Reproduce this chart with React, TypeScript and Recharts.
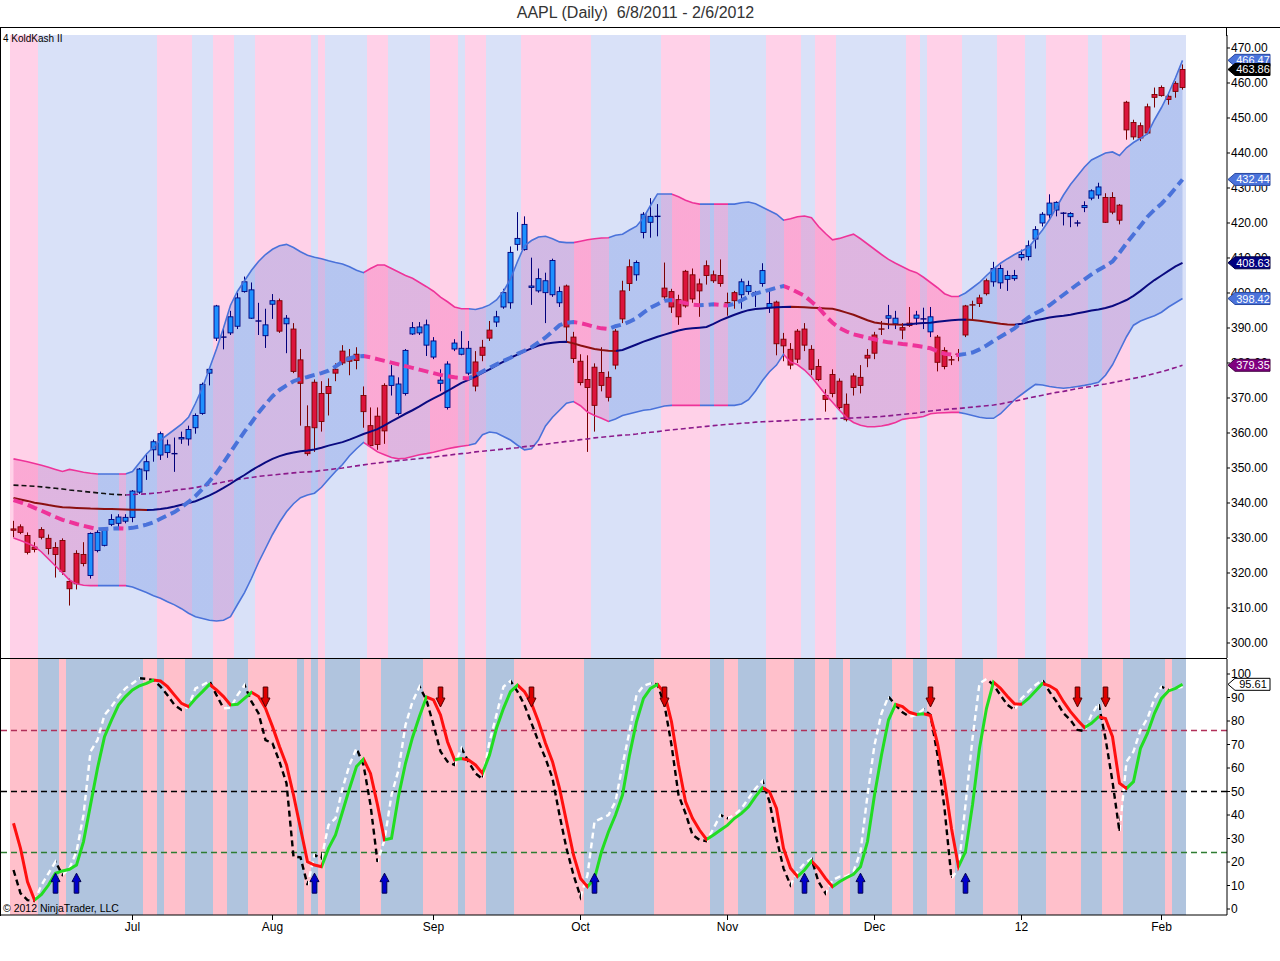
import React from "react";
import {
  ComposedChart,
  Bar,
  Line,
  Area,
  XAxis,
  YAxis,
  ReferenceArea,
  ReferenceLine,
  Scatter,
} from "recharts";

// ---------------- DATA ----------------
const monthTickDays = [17, 37, 60, 81, 102, 123, 144, 164];
const monthTickLabels = ["Jul", "Aug", "Sep", "Oct", "Nov", "Dec", "12", "Feb"];

const openVals = [
  332.6, 333.2, 330.7, 327.4, 332.4, 329.9, 327.3, 329.3, 317.6, 325.6,
  325.3, 319.3, 326.4, 327.9, 333.9, 334.2, 334.8, 335.9, 343.1, 349.2,
  355.2, 353.7, 354.4, 354.1, 358.3, 358.3, 361.5, 365.6, 377.1, 387.1,
  387.4, 388.6, 390.5, 400.4, 392.8, 392.0, 387.8, 396.8, 397.8, 391.2,
  389.7, 380.9, 361.8, 374.5, 371.3, 373.3, 378.2, 383.4, 381.7, 382.5,
  370.7, 362.1, 364.8, 373.6, 373.6, 365.6, 371.3, 388.3, 388.6, 385.1,
  381.7, 374.2, 367.3, 384.0, 382.5, 377.1, 380.3, 384.5, 389.4, 391.7,
  396.0, 397.2, 413.9, 412.4, 401.6, 400.6, 400.1, 399.5, 397.2, 402.0,
  387.4, 380.5, 375.3, 378.8, 377.3, 375.9, 389.1, 400.6, 407.5, 405.2,
  417.3, 420.2, 421.9, 401.4, 400.4, 398.1, 406.2, 405.2, 402.6, 407.8,
  405.2, 405.0, 397.2, 400.1, 399.5, 400.4, 400.1, 402.7, 395.8, 397.4,
  386.8, 383.9, 389.1, 389.7, 383.9, 379.0, 370.7, 376.7, 374.8, 368.2,
  376.3, 375.9, 382.2, 388.0, 389.7, 392.8, 391.2, 390.1, 391.4, 392.8,
  392.6, 388.9, 387.4, 383.6, 380.9, 382.5, 396.3, 396.6, 398.6, 403.5,
  403.2, 402.9, 403.9, 404.1, 410.1, 410.4, 415.4, 420.0, 422.3, 423.7,
  422.8, 421.8, 420.0, 424.4, 427.1, 428.0, 427.3, 427.3, 425.1, 454.5,
  448.7, 447.8, 453.2, 456.7, 458.7, 456.2, 459.9, 458.7,
];
const highVals = [
  334.9, 333.9, 331.6, 328.8, 333.1, 331.0, 328.8, 329.9, 318.4, 326.5,
  328.8, 331.6, 332.2, 332.8, 336.8, 336.8, 336.8, 343.7, 350.0, 354.1,
  358.1, 360.4, 358.1, 358.7, 360.4, 362.1, 365.6, 374.4, 378.8, 396.6,
  390.3, 394.9, 400.1, 404.7, 403.0, 397.2, 395.5, 399.7, 398.4, 393.7,
  391.4, 384.0, 367.9, 375.3, 374.8, 375.6, 379.9, 385.1, 384.0, 384.5,
  373.3, 367.3, 367.3, 374.2, 379.4, 375.9, 384.0, 391.7, 391.7, 392.4,
  387.4, 378.2, 380.5, 386.8, 389.1, 386.3, 383.4, 386.6, 392.0, 394.9,
  401.2, 413.3, 423.1, 421.9, 410.1, 407.0, 405.8, 409.8, 401.8, 402.4,
  388.9, 382.5, 382.2, 379.9, 384.5, 377.6, 389.7, 403.5, 409.6, 409.3,
  423.1, 427.1, 425.4, 408.7, 401.2, 399.5, 406.6, 407.0, 404.1, 409.3,
  406.4, 409.6, 400.1, 400.6, 404.1, 403.5, 400.6, 408.5, 401.2, 397.8,
  388.6, 385.7, 389.7, 391.4, 385.1, 381.1, 372.5, 378.2, 375.6, 371.3,
  377.1, 379.4, 384.0, 388.9, 392.0, 396.6, 394.9, 391.4, 396.0, 394.9,
  395.8, 396.0, 388.0, 384.5, 382.0, 384.0, 396.6, 397.8, 399.5, 404.1,
  408.9, 408.1, 406.4, 406.6, 412.4, 415.0, 419.1, 423.1, 428.2, 426.2,
  423.1, 423.1, 420.8, 426.2, 429.6, 431.5, 428.5, 428.8, 425.4, 454.9,
  449.5, 448.7, 454.1, 458.7, 459.3, 457.2, 460.5, 465.3,
];
const lowVals = [
  330.2, 331.1, 325.3, 325.9, 329.6, 325.3, 318.7, 319.5, 310.7, 315.3,
  321.9, 318.4, 325.9, 327.6, 333.4, 332.8, 334.2, 334.5, 342.6, 346.6,
  351.8, 352.3, 352.9, 348.9, 356.9, 356.4, 359.8, 365.2, 373.6, 386.3,
  383.9, 388.0, 389.7, 400.1, 392.6, 388.0, 384.3, 392.6, 388.6, 382.8,
  377.1, 362.1, 353.5, 354.6, 360.4, 365.0, 374.8, 379.4, 376.5, 378.2,
  361.5, 355.8, 355.2, 356.9, 370.7, 365.0, 370.7, 388.0, 388.0, 382.0,
  381.1, 371.9, 366.7, 383.4, 382.2, 376.5, 371.9, 380.5, 386.3, 390.3,
  395.5, 395.5, 412.1, 412.1, 396.6, 400.1, 391.4, 398.9, 396.0, 386.3,
  380.0, 373.6, 354.6, 360.4, 371.9, 369.0, 378.2, 391.4, 400.6, 403.5,
  415.6, 415.8, 416.2, 398.3, 394.3, 390.9, 395.8, 397.2, 393.2, 402.4,
  402.9, 401.8, 393.5, 395.5, 395.5, 399.5, 396.0, 401.8, 394.3, 382.2,
  380.5, 378.2, 380.0, 383.4, 376.5, 374.8, 366.1, 370.2, 366.7, 363.3,
  370.7, 371.3, 378.8, 381.1, 388.0, 389.7, 389.7, 386.8, 390.3, 390.9,
  389.7, 387.4, 377.6, 378.2, 379.4, 380.5, 387.4, 392.0, 396.0, 399.3,
  401.8, 401.2, 400.6, 403.5, 409.3, 409.3, 412.7, 419.0, 421.3, 421.9,
  419.3, 418.8, 419.0, 423.1, 426.5, 426.9, 420.0, 422.5, 419.6, 443.8,
  443.8, 443.4, 445.3, 453.0, 456.1, 453.8, 455.8, 458.1,
];
const closeVals = [
  332.2, 331.6, 325.9, 326.7, 330.2, 327.0, 325.3, 320.4, 315.5, 316.9,
  322.7, 331.3, 331.6, 332.2, 335.3, 336.0, 335.9, 343.4, 349.7, 351.8,
  357.5, 359.8, 356.6, 354.1, 358.7, 361.0, 365.0, 373.9, 378.2, 396.3,
  387.4, 393.2, 398.6, 403.2, 400.9, 392.0, 390.9, 397.8, 389.1, 392.8,
  377.6, 374.2, 354.1, 361.5, 363.3, 371.3, 377.1, 380.0, 380.5, 380.7,
  366.1, 356.4, 356.7, 360.6, 376.3, 374.0, 383.6, 390.1, 390.3, 390.9,
  386.3, 375.1, 379.7, 385.7, 384.2, 384.2, 373.4, 382.2, 387.1, 393.2,
  400.1, 411.6, 415.6, 419.6, 402.0, 404.1, 403.5, 409.3, 400.4, 390.3,
  381.3, 374.4, 373.0, 367.9, 373.6, 370.2, 379.4, 392.6, 402.7, 408.7,
  422.5, 421.9, 421.9, 398.9, 396.0, 393.2, 396.3, 398.3, 400.6, 405.0,
  403.5, 402.7, 397.2, 397.8, 403.2, 402.1, 400.1, 406.4, 397.0, 385.5,
  384.9, 379.4, 381.1, 385.1, 378.2, 375.3, 369.6, 371.3, 367.3, 363.8,
  373.0, 373.6, 381.4, 382.8, 389.7, 393.5, 392.8, 389.4, 390.7, 393.7,
  392.6, 393.2, 380.2, 379.0, 380.9, 382.5, 388.0, 396.6, 397.0, 399.8,
  407.0, 407.0, 405.0, 405.0, 411.0, 413.5, 418.1, 422.5, 425.7, 425.9,
  422.8, 422.7, 420.0, 425.0, 429.2, 430.3, 420.2, 423.1, 420.8, 446.6,
  444.6, 444.3, 445.7, 455.9, 456.4, 455.3, 457.6, 463.86,
];
// candle colour regime: r = red, b = blue (run lengths)
const candleToneRuns: [string, number][] = [
  ["r", 11], ["b", 27], ["r", 1], ["b", 1], ["r", 14], ["b", 12], ["r", 3],
  ["b", 10], ["r", 10], ["b", 4], ["r", 11], ["b", 5], ["r", 16], ["b", 2],
  ["r", 2], ["b", 3], ["r", 8], ["b", 16], ["r", 12],
];

const bbUpper = [
  352.6, 352.2, 351.8, 351.3, 350.8, 350.2, 349.6, 349.0, 349.6, 349.2,
  348.8, 348.5, 348.3, 348.3, 348.3, 348.3, 348.3, 349.0, 351.5, 354.0,
  356.0, 358.0, 359.5, 361.0, 362.5, 364.5, 368.5, 373.0, 378.5, 384.0,
  390.0, 396.5, 400.5, 403.5, 406.5, 409.0, 411.0, 412.5, 413.5, 413.9,
  413.0, 411.8, 410.8, 410.2, 409.8, 409.2, 408.7, 408.3, 407.5, 406.5,
  405.8, 407.0, 408.0, 408.0, 407.0, 406.0, 405.0, 404.2, 403.0, 401.8,
  400.5, 398.8, 397.5, 396.0, 395.5, 395.5, 395.3, 395.8, 396.6, 398.0,
  400.5, 404.0, 409.0, 413.5, 415.0, 416.0, 416.2, 415.5, 414.6, 414.4,
  414.4, 414.8, 415.2, 415.5, 415.7, 415.8, 416.5, 416.8, 418.0, 419.1,
  421.5, 425.0, 428.3, 428.3, 428.3, 427.5, 426.5, 425.8, 425.4, 425.4,
  425.4, 425.4, 425.4, 425.4, 425.8, 426.0, 425.5, 424.5, 423.5, 422.5,
  420.8, 421.2, 421.8, 422.0, 421.5, 419.0, 417.0, 415.2, 415.6, 416.2,
  416.8, 415.5, 414.0, 412.5, 411.0, 409.6, 408.5, 407.5, 406.5, 405.8,
  404.5, 403.0, 401.5, 399.8, 399.0, 399.0, 400.0, 401.5, 403.0, 405.0,
  406.8, 408.5, 409.8, 411.0, 412.0, 413.0, 415.5, 418.0, 421.0, 424.5,
  428.0, 431.0, 433.5, 436.0, 438.0, 439.0, 440.0, 440.3, 439.3, 441.5,
  443.0, 444.2, 445.5, 449.5, 453.0, 457.0, 461.5, 466.47,
];
const bbMid = [
  340.8, 340.2, 339.5, 338.6, 337.8, 336.9, 336.0, 335.2, 334.6, 334.0,
  333.5, 333.0, 332.5, 332.6, 332.7, 332.8, 332.7, 332.9, 333.3, 333.8,
  334.5, 335.5, 336.5, 337.4, 338.8, 340.3, 342.0, 344.0, 346.2, 348.6,
  351.5, 354.5, 357.5, 360.4, 363.0, 365.8, 368.2, 370.5, 372.3, 373.6,
  374.8, 375.5, 376.0, 376.6, 377.1, 377.8, 379.0, 380.4, 381.3, 381.9,
  382.0, 381.6, 381.1, 380.6, 380.1, 379.6, 379.1, 378.6, 378.1, 377.6,
  377.1, 376.6, 376.2, 375.9, 375.7, 375.6, 376.5, 377.6, 378.6, 379.6,
  380.6, 381.5, 382.6, 383.5, 384.5, 385.9, 387.3, 389.0, 390.8, 391.5,
  391.7, 391.4, 390.9, 390.3, 389.9, 389.7, 390.5, 391.0, 391.8, 392.8,
  394.4, 395.8, 396.8, 397.8, 398.0, 397.6, 397.1, 396.7, 396.5, 396.6,
  396.8, 396.6, 396.4, 396.9, 397.9, 399.0, 399.8, 400.4, 400.9, 401.5,
  402.0, 401.2, 400.2, 399.2, 397.5, 395.8, 393.5, 391.5, 390.0, 389.0,
  388.2, 387.7, 387.2, 386.8, 386.3, 385.9, 385.7, 385.4, 385.2, 384.9,
  384.6, 384.2, 383.4, 382.6, 382.4, 382.3, 382.6, 383.0, 383.9, 385.0,
  386.3, 387.5, 388.7, 389.9, 391.5, 393.0, 394.2, 395.2, 396.5, 398.0,
  399.5, 401.0, 402.5, 403.9, 405.3, 406.6, 407.7, 409.0, 411.5, 414.2,
  416.7, 419.2, 421.8, 423.8, 425.5, 427.6, 430.0, 432.44,
];
const bbLower = [
  330.0, 329.3, 328.5, 327.6, 326.0, 324.0, 322.0, 320.1, 318.0, 316.9,
  316.5, 316.4, 316.4, 316.4, 316.4, 316.4, 316.4, 316.0, 315.2, 314.4,
  313.5, 312.8, 311.8, 310.9, 309.8, 308.5, 307.5, 307.0, 306.5, 306.3,
  306.5, 307.5, 311.0, 314.4, 318.5, 323.0, 327.0, 331.0, 334.5, 337.5,
  339.8, 341.5, 342.3, 342.8, 344.5, 346.8, 349.0, 351.0, 353.5, 355.5,
  357.3, 356.0, 354.6, 353.8, 353.0, 352.6, 352.8, 353.3, 353.8, 354.1,
  354.5, 355.0, 355.5, 355.9, 356.2, 356.5, 357.0, 359.5, 360.3, 360.0,
  359.0, 358.0, 356.5, 355.2, 355.5, 358.0, 362.0, 364.5, 366.5, 368.5,
  369.0, 367.8, 366.0, 365.0, 364.2, 363.3, 364.0, 365.0, 365.5, 366.0,
  366.5, 366.7, 367.2, 367.7, 367.9, 367.9, 367.9, 367.9, 367.9, 367.9,
  367.9, 367.9, 367.9, 367.9, 368.3, 369.5, 372.0, 375.0, 377.5, 379.4,
  382.5, 380.3, 379.5, 378.0, 376.0, 373.5, 371.0, 368.8, 366.5, 364.4,
  363.0, 362.2, 361.8, 361.8, 362.0, 362.4, 363.0, 363.9, 364.2, 364.4,
  364.7, 365.5, 365.7, 365.8, 365.9, 365.9, 365.5, 365.0, 364.5, 364.2,
  364.2, 365.5, 367.5, 369.5, 371.0, 372.5, 373.9, 373.7, 373.3, 373.0,
  372.8, 373.0, 373.3, 373.6, 374.0, 374.5, 376.5, 379.5, 383.5, 387.5,
  390.8, 392.0, 392.8, 393.5, 394.5, 396.0, 397.2, 398.42,
];
const sma50 = [
  341.4, 341.0, 340.6, 340.1, 339.8, 339.4, 339.1, 338.8, 338.7, 338.6,
  338.5, 338.4, 338.35, 338.3, 338.25, 338.2, 338.15, 338.1, 338.05, 338.0,
  338.1, 338.3, 338.6, 339.0, 339.5, 340.0, 340.5, 341.3, 342.2, 343.2,
  344.3, 345.5, 346.8, 348.0, 349.3, 350.5, 351.6, 352.6, 353.4, 354.0,
  354.4, 354.8, 355.0, 355.3, 355.8, 356.4, 356.9, 357.4, 358.1, 358.9,
  359.7, 360.4, 361.1, 362.2, 363.3, 364.4, 365.5, 366.5, 367.6, 368.8,
  369.9, 370.9, 372.0, 373.2, 374.3, 375.2, 376.1, 377.2, 378.2, 379.3,
  380.4, 381.5, 382.4, 383.3, 384.2, 385.0, 385.5, 385.8, 386.0, 386.05,
  385.6, 385.0, 384.5, 384.0, 383.7, 383.5, 383.4, 383.7, 384.5, 385.3,
  386.1, 386.8, 387.5, 388.1, 388.7, 389.3, 389.7, 389.9, 390.1, 390.3,
  391.2, 392.2, 393.0, 393.8, 394.5, 395.1, 395.4, 395.6, 395.8, 395.9,
  396.0, 396.05, 396.0, 395.9, 395.8, 395.7, 395.6, 395.5, 395.0, 394.4,
  393.8, 393.0, 392.2, 391.6, 391.3, 391.1, 391.0, 390.95, 391.1, 391.3,
  391.4, 391.5, 391.8, 392.0, 392.2, 392.35, 392.4, 392.3, 392.1, 391.8,
  391.5, 391.2, 391.0, 390.9, 391.2, 391.7, 392.2, 392.6, 393.0, 393.3,
  393.5, 393.8, 394.2, 394.6, 395.0, 395.3, 395.7, 396.3, 397.1, 398.0,
  399.2, 400.6, 402.2, 403.7, 405.0, 406.3, 407.6, 408.63,
];
const sma200 = [
  345.1, 345.0, 344.9, 344.8, 344.6, 344.4, 344.2, 344.0, 343.7, 343.5,
  343.3, 343.1, 342.9, 342.7, 342.5, 342.4, 342.3, 342.4, 342.5, 342.6,
  342.8, 343.0, 343.3, 343.6, 343.9, 344.1, 344.4, 344.8, 345.2, 345.6,
  346.0, 346.4, 346.7, 347.0, 347.3, 347.6, 347.8, 348.0, 348.2, 348.4,
  348.6, 348.8, 348.9, 349.0, 349.3, 349.5, 349.8, 350.0, 350.3, 350.6,
  350.9, 351.2, 351.4, 351.7, 351.9, 352.1, 352.3, 352.5, 352.7, 352.9,
  353.1, 353.4, 353.6, 353.9, 354.1, 354.3, 354.6, 354.8, 355.0, 355.2,
  355.4, 355.6, 355.8, 356.1, 356.3, 356.6, 356.8, 357.1, 357.3, 357.6,
  357.8, 358.1, 358.3, 358.6, 358.8, 359.0, 359.2, 359.4, 359.5, 359.7,
  360.0, 360.2, 360.4, 360.7, 360.9, 361.1, 361.3, 361.5, 361.7, 361.9,
  362.1, 362.3, 362.5, 362.6, 362.8, 362.9, 363.1, 363.2, 363.3, 363.4,
  363.5, 363.6, 363.7, 363.8, 363.9, 364.0, 364.05, 364.1, 364.2, 364.25,
  364.3, 364.4, 364.5, 364.6, 364.7, 364.9, 365.1, 365.3, 365.5, 365.7,
  366.0, 366.3, 366.5, 366.7, 366.9, 367.0, 367.2, 367.4, 367.6, 367.8,
  368.0, 368.3, 368.7, 369.1, 369.5, 370.0, 370.4, 370.8, 371.2, 371.6,
  371.9, 372.3, 372.7, 373.0, 373.3, 373.7, 374.0, 374.4, 374.8, 375.2,
  375.6, 376.0, 376.5, 377.0, 377.5, 378.1, 378.7, 379.35,
];

const stochSlow = [
  36.5, 25.8, 11.6, 3.8, 6.2, 10.2, 15.2, 16.2, 16.9, 18.7,
  28.7, 44.3, 59.9, 73.3, 80.4, 86.8, 90.4, 93.2, 95.0, 96.0,
  97.4, 97.0, 94.6, 91.0, 87.5, 86.1, 89.6, 92.5, 95.6, 93.2,
  90.4, 86.8, 87.1, 89.6, 92.2, 90.4, 85.4, 77.6, 69.1, 61.3,
  48.5, 34.3, 20.1, 18.7, 18.0, 25.8, 31.5, 41.4, 51.3, 60.6,
  63.8, 57.7, 44.3, 29.4, 30.1, 48.0, 62.0, 73.0, 82.0, 90.2,
  89.0, 82.6, 71.2, 63.5, 64.0, 63.4, 61.3, 57.7, 65.5, 76.9,
  85.4, 92.5, 95.3, 92.5, 87.5, 79.7, 70.5, 62.7, 51.3, 37.2,
  23.0, 13.0, 9.5, 13.0, 24.4, 32.9, 40.0, 48.5, 65.5, 79.7,
  89.6, 93.9, 95.6, 91.8, 79.7, 61.3, 45.7, 38.6, 33.6, 29.6,
  31.5, 33.6, 35.7, 38.6, 40.7, 43.5, 47.8, 51.6, 49.9, 42.8,
  25.8, 17.3, 13.8, 16.6, 20.4, 17.3, 13.0, 9.5, 11.6, 13.3,
  14.8, 18.0, 28.7, 48.5, 65.5, 80.4, 87.1, 86.1, 83.7, 82.8,
  83.1, 82.3, 70.5, 54.2, 34.3, 18.0, 24.4, 44.3, 68.4, 85.4,
  96.5, 93.9, 90.4, 87.3, 87.1, 89.6, 92.8, 96.0, 95.0, 93.2,
  88.2, 84.0, 80.4, 77.2, 79.0, 81.8, 81.1, 73.3, 53.5, 51.3,
  54.2, 68.4, 74.8, 83.3, 89.6, 92.8, 93.9, 95.61,
];
const stochFast = [
  16.6, 6.7, 3.8, 3.4, 10.2, 15.2, 20.1, 14.5, 17.3, 24.4,
  40.0, 67.0, 71.9, 82.6, 86.1, 90.4, 93.9, 96.0, 98.2, 97.9,
  97.4, 94.6, 91.0, 86.8, 84.7, 86.1, 93.9, 95.3, 97.0, 91.0,
  85.4, 85.6, 91.0, 95.3, 88.2, 83.3, 71.9, 70.5, 62.7, 53.5,
  22.3, 22.0, 10.2, 23.0, 21.6, 35.7, 38.6, 51.3, 61.3, 68.4,
  61.3, 44.3, 20.1, 29.4, 48.5, 59.1, 78.3, 88.2, 94.6, 88.9,
  78.3, 67.0, 62.7, 61.3, 68.4, 62.7, 57.7, 55.3, 71.2, 82.6,
  94.6, 97.0, 92.5, 86.8, 79.0, 71.2, 64.1, 55.6, 40.0, 25.8,
  14.5, 5.2, 14.5, 37.2, 38.6, 40.0, 45.7, 61.3, 75.5, 91.0,
  95.0, 96.0, 95.6, 86.8, 69.8, 48.5, 40.7, 31.5, 29.4, 28.9,
  34.3, 40.0, 38.6, 40.0, 42.8, 47.1, 51.3, 54.5, 45.7, 30.1,
  17.3, 10.2, 15.9, 19.4, 21.3, 11.6, 6.7, 12.3, 13.8, 13.9,
  15.9, 24.4, 48.5, 69.8, 83.3, 90.4, 86.8, 83.7, 81.8, 82.6,
  85.0, 82.6, 65.5, 42.8, 13.0, 17.3, 44.3, 72.6, 96.0, 97.9,
  95.3, 91.0, 86.8, 84.7, 89.6, 92.5, 95.3, 97.4, 92.5, 88.2,
  83.3, 80.4, 76.2, 75.7, 82.6, 87.5, 72.6, 54.2, 32.9, 62.7,
  67.0, 76.2, 81.1, 89.6, 94.6, 93.2, 93.9, 94.5,
];

// background zones: p = pink, b = blue (run lengths, one unit per trading day)
const priceZoneRuns: [string, number][] = [
  ["p", 4], ["b", 17], ["p", 5], ["b", 3], ["p", 3], ["b", 3], ["p", 8], ["b", 1],
  ["p", 1], ["b", 6], ["p", 3], ["b", 6], ["p", 4], ["b", 1], ["p", 3], ["b", 5],
  ["p", 10], ["b", 10], ["p", 7], ["b", 8], ["p", 5], ["b", 2], ["p", 3], ["b", 10],
  ["p", 2], ["b", 1], ["p", 5], ["b", 5], ["p", 4], ["b", 3], ["p", 6], ["b", 2],
  ["p", 4], ["b", 8],
];
const oscZoneRuns: [string, number][] = [
  ["p", 4], ["b", 3], ["p", 1], ["b", 11], ["p", 2], ["b", 1], ["p", 3], ["b", 4],
  ["p", 2], ["b", 3], ["p", 7], ["b", 1], ["p", 1], ["b", 1], ["p", 1], ["b", 5],
  ["p", 3], ["b", 6], ["p", 5], ["b", 1], ["p", 3], ["b", 4], ["p", 10], ["b", 10],
  ["p", 8], ["b", 2], ["p", 2], ["b", 4], ["p", 4], ["b", 3], ["p", 2], ["b", 2],
  ["p", 1], ["b", 6], ["p", 3], ["b", 2], ["p", 4], ["b", 4], ["p", 5], ["b", 4],
  ["p", 5], ["b", 3], ["p", 3], ["b", 6], ["p", 1], ["b", 2],
];

const buySignalDays = [6, 9, 43, 53, 83, 113, 121, 136];
const sellSignalDays = [36, 61, 74, 93, 131, 152, 156];
const buyMarkerLevel = 11;
const sellMarkerLevel = 90.2;
const oscLevels = [76, 50, 24];

const priceTicks = [300, 310, 320, 330, 340, 350, 360, 370, 380, 390, 400, 410, 420, 430, 440, 450, 460, 470];
const oscTicks = [0, 10, 20, 30, 40, 50, 60, 70, 80, 90, 100];

// ---------------- HELPERS ----------------
const FONT = "'Liberation Sans', Arial, sans-serif";
const X_DOMAIN: [number, number] = [-1.786, 173.357];
const PRICE_DOMAIN: [number, number] = [295.714, 473.714];
const OSC_DOMAIN: [number, number] = [-2.553, 106.383];

function expandRuns(runs: [string, number][]) {
  const out: string[] = [];
  runs.forEach(([f, n]) => {
    for (let k = 0; k < n; k++) out.push(f);
  });
  return out;
}
function runSpans(runs: [string, number][]) {
  let s = 0;
  return runs.map(([f, n]) => {
    const span = { flag: f, from: s, to: s + n - 1 };
    s += n;
    return span;
  });
}
function slopeStops(vals: number[], up: string, down: string) {
  const n = vals.length;
  const stops: { o: number; c: string }[] = [];
  let prev: string | null = null;
  for (let s = 0; s < n - 1; s++) {
    const c = vals[s + 1] > vals[s] ? up : down;
    if (c !== prev) {
      const o = s / (n - 1);
      if (prev) stops.push({ o, c: prev });
      stops.push({ o, c });
      prev = c;
    }
  }
  stops.push({ o: 1, c: prev as string });
  return stops;
}
function slopeGradient(id: string, vals: number[], up: string, down: string, opacity = 1) {
  const stops = slopeStops(vals, up, down);
  return (
    <linearGradient id={id} key={id} x1="0" y1="0" x2="1" y2="0">
      {stops.map((s, k) => (
        <stop key={k} offset={s.o} stopColor={s.c} stopOpacity={opacity} />
      ))}
    </linearGradient>
  );
}

const candleTones = expandRuns(candleToneRuns);
const priceRows = closeVals.map((c, i) => ({
  i,
  open: openVals[i],
  high: highVals[i],
  low: lowVals[i],
  close: c,
  range: [lowVals[i], highVals[i]],
  tone: candleTones[i],
  band: [bbLower[i], bbUpper[i]],
  upper: bbUpper[i],
  mid: bbMid[i],
  lower: bbLower[i],
  sma50: sma50[i],
  sma200: sma200[i],
}));
const oscRows = stochSlow.map((k, i) => ({ i, slow: k, fast: stochFast[i] }));
const buyRows = buySignalDays.map((i) => ({ i, v: buyMarkerLevel }));
const sellRows = sellSignalDays.map((i) => ({ i, v: sellMarkerLevel }));
const last = priceRows.length - 1;

const PINK = "#EE3399";
const BLUE = "#4A72DA";

const Candle = (props: any) => {
  const { x, y, width, height, payload } = props;
  if (x == null || payload == null || !isFinite(y)) return null;
  const top = Math.min(y, y + height);
  const h = Math.abs(height);
  const span = payload.high - payload.low || 1;
  const k = h / span;
  const hi = Math.max(payload.open, payload.close);
  const lo = Math.min(payload.open, payload.close);
  const by = top + (payload.high - hi) * k;
  const bh = (hi - lo) * k;
  const cx = x + width / 2;
  const blue = payload.tone === "b";
  const fill = blue ? "#1E90FF" : "#DC143C";
  const edge = blue ? "#00007A" : "#7A0000";
  return (
    <g>
      <line x1={cx} x2={cx} y1={top} y2={top + h} stroke={edge} strokeWidth={1} />
      {bh < 1.2 ? (
        <line x1={x - 0.5} x2={x + width + 0.5} y1={by} y2={by} stroke={edge} strokeWidth={1.4} />
      ) : (
        <rect x={x} y={by} width={width} height={bh} fill={fill} stroke={edge} strokeWidth={0.9} />
      )}
    </g>
  );
};

const UpArrow = (props: any) => {
  const { cx, cy } = props;
  if (cx == null) return null;
  const pts = [
    [cx, cy - 10], [cx + 4.5, cy - 1.5], [cx + 2.3, cy - 1.5], [cx + 2.3, cy + 10],
    [cx - 2.3, cy + 10], [cx - 2.3, cy - 1.5], [cx - 4.5, cy - 1.5],
  ].map((p) => p.join(",")).join(" ");
  return <polygon points={pts} fill="#0000CC" stroke="#000050" strokeWidth={1} />;
};
const DownArrow = (props: any) => {
  const { cx, cy } = props;
  if (cx == null) return null;
  const pts = [
    [cx, cy + 10], [cx + 4.5, cy + 1], [cx + 2.3, cy + 1], [cx + 2.3, cy - 10],
    [cx - 2.3, cy - 10], [cx - 2.3, cy + 1], [cx - 4.5, cy + 1],
  ].map((p) => p.join(",")).join(" ");
  return <polygon points={pts} fill="#DD0000" stroke="#500000" strokeWidth={1} />;
};

function flagLabel(text: string, fill: string, textFill: string, edge: string) {
  return (props: any) => {
    const vb = props.viewBox || {};
    const x0 = (vb.x || 0) + (vb.width || 0) + 1;
    const y = vb.y || 0;
    const pts = [
      [x0, y], [x0 + 7, y - 6], [x0 + 42, y - 6], [x0 + 42, y + 6], [x0 + 7, y + 6],
    ].map((p) => p.join(",")).join(" ");
    return (
      <g>
        <polygon points={pts} fill={fill} stroke={edge} strokeWidth={1} />
        <text
          x={x0 + 25}
          y={y + 4}
          textAnchor="middle"
          fontSize={11}
          fontFamily={FONT}
          fill={textFill}
        >
          {text}
        </text>
      </g>
    );
  };
}

const axisTick = { fill: "#000", fontSize: 12, fontFamily: FONT };

// value flags on the right axis, drawn in a transparent overlay so they sit above the tick labels
const priceFlags = [
  { value: bbUpper[last], fill: BLUE, text: "#fff", edge: "#2A4AA0" },
  { value: closeVals[last], fill: "#000", text: "#fff", edge: "#000" },
  { value: bbMid[last], fill: BLUE, text: "#fff", edge: "#2A4AA0" },
  { value: sma50[last], fill: "#000080", text: "#fff", edge: "#000040" },
  { value: bbLower[last], fill: BLUE, text: "#fff", edge: "#2A4AA0" },
  { value: sma200[last], fill: "#800080", text: "#fff", edge: "#400040" },
];
const oscFlags = [{ value: stochSlow[last], fill: "#FFFFFF", text: "#000", edge: "#000" }];

function FlagOverlay({ height, margin, domain, data, flags }: any) {
  return (
    <ComposedChart width={1280} height={height} data={data} margin={margin}>
      <XAxis dataKey="i" type="number" domain={X_DOMAIN} allowDataOverflow hide />
      <YAxis hide domain={domain} allowDataOverflow />
      {flags.map((f: any, k: number) => (
        <ReferenceLine
          key={"fl" + k}
          y={f.value}
          stroke="none"
          label={flagLabel(f.value.toFixed(2), f.fill, f.text, f.edge)}
        />
      ))}
    </ComposedChart>
  );
}

function PricePanel() {
  const zones = runSpans(priceZoneRuns);
  return (
    <ComposedChart
      width={1280}
      height={660}
      data={priceRows}
      margin={{ top: 35, right: 0, bottom: 2, left: 1 }}
    >
      <defs>
        {slopeGradient("gBandFill", bbMid, BLUE, PINK, 1)}
        {slopeGradient("gBand", bbMid, BLUE, PINK)}
        {slopeGradient("gMid", bbMid, BLUE, PINK)}
        {slopeGradient("gS50", sma50, "#0A0A80", "#8B1010")}
        {slopeGradient("gS200", sma200, "#8B1A8B", "#111111")}
      </defs>
      <XAxis dataKey="i" type="number" domain={X_DOMAIN} allowDataOverflow hide />
      <YAxis
        orientation="right"
        width={53}
        domain={PRICE_DOMAIN}
        allowDataOverflow
        ticks={priceTicks}
        interval={0}
        tickFormatter={(v: number) => v.toFixed(2)}
        tickSize={3}
        tickMargin={1}
        axisLine={{ stroke: "#000" }}
        tickLine={{ stroke: "#000" }}
        tick={axisTick}
      />
      {zones.map((z, k) => (
        <ReferenceArea
          key={"pz" + k}
          x1={z.from - 0.5}
          x2={z.to + 0.5}
          fill={z.flag === "p" ? "#FFD1E8" : "#D9E1F8"}
          fillOpacity={1}
          stroke="none"
          ifOverflow="hidden"
        />
      ))}
      <Area
        dataKey="band"
        type="linear"
        fill="url(#gBandFill)"
        fillOpacity={0.25}
        stroke="none"
        isAnimationActive={false}
      />
      <Line dataKey="upper" type="linear" stroke="url(#gBand)" strokeWidth={1.6} dot={false} isAnimationActive={false} />
      <Line dataKey="lower" type="linear" stroke="url(#gBand)" strokeWidth={1.6} dot={false} isAnimationActive={false} />
      <Line dataKey="sma200" type="linear" stroke="url(#gS200)" strokeWidth={1.6} strokeDasharray="5 3" dot={false} isAnimationActive={false} />
      <Line dataKey="sma50" type="linear" stroke="url(#gS50)" strokeWidth={2} dot={false} isAnimationActive={false} />
      <Line dataKey="mid" type="linear" stroke="url(#gMid)" strokeWidth={4} strokeDasharray="10 5" dot={false} isAnimationActive={false} />
      <Bar dataKey="range" barSize={5} shape={Candle} isAnimationActive={false} />
    </ComposedChart>
  );
}

function OscPanel() {
  const zones = runSpans(oscZoneRuns);
  const levelColors = ["#B0305A", "#000000", "#2E7D32"];
  return (
    <ComposedChart
      width={1280}
      height={302}
      data={oscRows}
      margin={{ top: 0, right: 0, bottom: 16, left: 1 }}
    >
      <defs>
        {slopeGradient("gK", stochSlow, "#22DD22", "#FF1010")}
        {slopeGradient("gFast", stochFast, "#FFFFFF", "#000000")}
      </defs>
      <XAxis
        dataKey="i"
        type="number"
        domain={X_DOMAIN}
        allowDataOverflow
        ticks={monthTickDays}
        interval={0}
        tickFormatter={(v: number) => monthTickLabels[monthTickDays.indexOf(v)] || ""}
        height={30}
        tickSize={5}
        tickMargin={2}
        axisLine={{ stroke: "#000" }}
        tickLine={{ stroke: "#000" }}
        tick={axisTick}
      />
      <YAxis
        orientation="right"
        width={53}
        domain={OSC_DOMAIN}
        allowDataOverflow
        ticks={oscTicks}
        interval={0}
        tickSize={3}
        tickMargin={1}
        axisLine={{ stroke: "#000" }}
        tickLine={{ stroke: "#000" }}
        tick={axisTick}
      />
      {zones.map((z, k) => (
        <ReferenceArea
          key={"oz" + k}
          x1={z.from - 0.5}
          x2={z.to + 0.5}
          fill={z.flag === "p" ? "#FFC0CB" : "#B0C4DE"}
          fillOpacity={1}
          stroke="none"
          ifOverflow="hidden"
        />
      ))}
      {oscLevels.map((lv, k) => (
        <ReferenceLine key={"lv" + k} y={lv} stroke={levelColors[k]} strokeWidth={1.5} strokeDasharray="6 4" />
      ))}
      <Line dataKey="fast" type="linear" stroke="url(#gFast)" strokeWidth={2.4} strokeDasharray="6 4" dot={false} isAnimationActive={false} />
      <Line dataKey="slow" type="linear" stroke="url(#gK)" strokeWidth={3} dot={false} isAnimationActive={false} />
      <Scatter data={buyRows} dataKey="v" shape={UpArrow} isAnimationActive={false} />
      <Scatter data={sellRows} dataKey="v" shape={DownArrow} isAnimationActive={false} />
    </ComposedChart>
  );
}

export default function App() {
  return (
    <div
      style={{
        position: "absolute",
        left: 0,
        top: 0,
        width: 1280,
        height: 961,
        background: "#fff",
        fontFamily: FONT,
        overflow: "hidden",
      }}
    >
      <div
        style={{
          position: "absolute",
          left: 0,
          top: 4,
          width: 1271,
          textAlign: "center",
          fontSize: 16,
          lineHeight: "18px",
          color: "#333",
          whiteSpace: "pre",
        }}
      >
        {"AAPL (Daily)  6/8/2011 - 2/6/2012"}
      </div>
      <div style={{ position: "absolute", left: 0, top: 0 }}>
        <PricePanel />
      </div>
      <div style={{ position: "absolute", left: 0, top: 659 }}>
        <OscPanel />
      </div>
      <div style={{ position: "absolute", left: 0, top: 0, pointerEvents: "none" }}>
        <FlagOverlay
          height={660}
          margin={{ top: 35, right: 53, bottom: 2, left: 1 }}
          domain={PRICE_DOMAIN}
          data={priceRows}
          flags={priceFlags}
        />
      </div>
      <div style={{ position: "absolute", left: 0, top: 659, pointerEvents: "none" }}>
        <FlagOverlay
          height={302}
          margin={{ top: 0, right: 53, bottom: 46, left: 1 }}
          domain={OSC_DOMAIN}
          data={oscRows}
          flags={oscFlags}
        />
      </div>
      {/* frame lines */}
      <div style={{ position: "absolute", left: 0, top: 27, width: 1280, height: 1, background: "#000" }} />
      <div style={{ position: "absolute", left: 0, top: 27, width: 1, height: 889, background: "#000" }} />
      <div style={{ position: "absolute", left: 0, top: 658, width: 1227, height: 1, background: "#000" }} />
      <div style={{ position: "absolute", left: 1226, top: 27, width: 1, height: 9, background: "#000" }} />
      <div
        style={{
          position: "absolute",
          left: 3,
          top: 33,
          fontSize: 10,
          lineHeight: "12px",
          color: "#000",
        }}
      >
        4 KoldKash II
      </div>
      <div
        style={{
          position: "absolute",
          left: 3,
          top: 902,
          fontSize: 10.5,
          lineHeight: "12px",
          color: "#000",
        }}
      >
        © 2012 NinjaTrader, LLC
      </div>
    </div>
  );
}
